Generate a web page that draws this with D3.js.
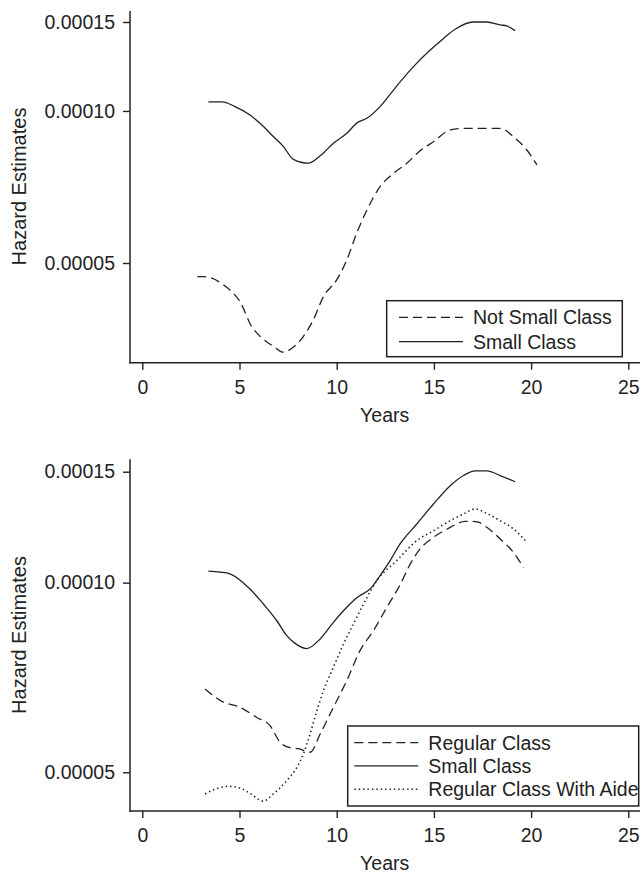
<!DOCTYPE html>
<html>
<head>
<meta charset="utf-8">
<script src="https://cdn.jsdelivr.net/npm/d3@7"></script>
<style>
  html, body { margin: 0; padding: 0; background: #fff; }
  svg { display: block; }
  text { font-family: "Liberation Sans", Arial, Helvetica, sans-serif; fill: #222; }
</style>
</head>
<body>
<svg id="chart" width="640" height="873"></svg>
<script>
(function (d3) {
    "use strict";

    /***** Data *****/

    const xTicks = [0, 5, 10, 15, 20, 25];
    const yTicks = [0.00005, 0.00010, 0.00015];

    // Top panel
    const notSmallYears = [2.83, 3.14, 4.17, 4.51, 5.03, 5.63, 6.06, 6.74, 7.26, 7.60, 8.29, 8.80, 9.32, 10.0,
        10.52, 11.03, 11.56, 12.23, 12.93, 13.61, 14.29, 14.98, 15.84, 16.70, 18.41, 19.09, 19.78, 20.30];
    const notSmallHazard = [0.0000470, 0.0000470, 0.0000453, 0.0000442, 0.0000419, 0.0000374, 0.0000358,
        0.0000342, 0.0000333, 0.0000337, 0.0000358, 0.0000386, 0.0000429, 0.0000463, 0.0000507, 0.0000573,
        0.0000637, 0.0000708, 0.0000753, 0.0000788, 0.0000834, 0.0000869, 0.0000917, 0.0000924, 0.0000924,
        0.0000889, 0.0000837, 0.0000782];

    const smallTopYears = [3.40, 4.09, 4.77, 5.54, 6.15, 6.74, 7.26, 7.77, 8.54, 9.15, 9.83, 10.52, 11.03,
        11.55, 12.23, 12.92, 13.35, 13.95, 14.81, 15.50, 16.09, 17.04, 17.72, 18.41, 18.75, 19.18];
    const smallTopHazard = [0.0001042, 0.0001042, 0.0001020, 0.0000982, 0.0000938, 0.0000890, 0.0000850,
        0.0000802, 0.0000788, 0.0000815, 0.0000863, 0.0000903, 0.0000946, 0.0000967, 0.0001020, 0.0001100,
        0.0001152, 0.0001224, 0.0001320, 0.0001392, 0.0001451, 0.0001500, 0.0001500, 0.0001480, 0.0001473,
        0.0001442];

    // Bottom panel
    const regularYears = [3.23, 4.17, 4.94, 5.89, 6.57, 7.09, 7.60, 8.03, 8.63, 9.15, 9.83, 10.52, 11.2,
        11.89, 12.58, 13.26, 13.78, 14.29, 14.98, 15.84, 16.61, 16.95, 17.29, 17.72, 18.41, 19.09, 19.61];
    const regularHazard = [0.0000678, 0.0000646, 0.0000636, 0.0000611, 0.0000593, 0.0000558, 0.0000547,
        0.0000545, 0.0000538, 0.0000575, 0.0000634, 0.0000699, 0.0000780, 0.0000839, 0.0000914, 0.0000992,
        0.0001070, 0.0001131, 0.0001180, 0.0001224, 0.0001251, 0.0001251, 0.0001247, 0.0001224, 0.0001173,
        0.0001117, 0.0001057];

    const smallBotYears = [3.40, 4.0, 4.51, 5.54, 6.23, 6.92, 7.43, 7.86, 8.46, 9.15, 9.83, 10.52, 11.03,
        11.8, 12.23, 12.75, 13.26, 14.12, 14.98, 15.84, 16.52, 17.12, 17.72, 18.41, 19.18];
    const smallBotHazard = [0.0001043, 0.0001039, 0.0001033, 0.0000977, 0.0000925, 0.0000870, 0.0000824,
        0.0000801, 0.0000786, 0.0000814, 0.0000865, 0.0000914, 0.0000946, 0.0000983, 0.0001026, 0.0001084,
        0.0001152, 0.0001239, 0.0001333, 0.0001425, 0.0001479, 0.0001505, 0.0001505, 0.0001479, 0.0001446];

    const aideYears = [3.23, 3.83, 4.43, 5.03, 5.54, 6.23, 6.74, 7.43, 7.95, 8.29, 8.63, 8.98, 9.32, 9.83,
        10.35, 10.86, 11.38, 12.06, 13.09, 14.12, 14.98, 15.84, 16.52, 17.12, 17.72, 18.41, 19.09, 19.78];
    const aideHazard = [0.0000462, 0.0000471, 0.0000475, 0.0000472, 0.0000463, 0.0000450, 0.0000462,
        0.0000485, 0.0000509, 0.0000535, 0.0000575, 0.0000626, 0.0000674, 0.0000734, 0.0000799, 0.0000860,
        0.0000925, 0.0001007, 0.0001084, 0.0001166, 0.0001209, 0.0001254, 0.0001285, 0.0001309, 0.0001288,
        0.0001254, 0.0001217, 0.0001159];

    /***** Styles *****/

    const ink = "#222";
    const dashes = { dashed: "9,5", solid: null, dotted: "1.4,3" };

    const panels = [
        {
            originY: 362.7, axisTop: 11, yTop: 22, yBottom: 263,
            series: [
                { name: "Not Small Class", years: notSmallYears, hazard: notSmallHazard, style: "dashed" },
                { name: "Small Class", years: smallTopYears, hazard: smallTopHazard, style: "solid" }
            ],
            legend: { x: 386.7, y: 300.7, w: 235.6, h: 56, rowY: [317.3, 341.7] },
            yLabelY: 186.5, xLabelY: 421.5
        },
        {
            originY: 811, axisTop: 459.3, yTop: 471.7, yBottom: 772.3,
            series: [
                { name: "Regular Class", years: regularYears, hazard: regularHazard, style: "dashed" },
                { name: "Small Class", years: smallBotYears, hazard: smallBotHazard, style: "solid" },
                { name: "Regular Class With Aide", years: aideYears, hazard: aideHazard, style: "dotted" }
            ],
            legend: { x: 347.7, y: 726, w: 291, h: 80, rowY: [742.7, 765.9, 789.3] },
            yLabelY: 635, xLabelY: 870
        }
    ];

    const axisX = 130;
    const fontSize = 19.5;

    var svg = d3.select("#chart");

    var x = d3.scaleLinear().domain([0, 25]).range([142.3, 628.3]);

    panels.forEach(function (p) {
        var y = d3.scaleLog().domain([0.00005, 0.00015]).range([p.yBottom, p.yTop]);
        var g = svg.append("g");

        // Axis lines
        g.append("line")
            .attr("x1", axisX).attr("x2", axisX)
            .attr("y1", p.axisTop).attr("y2", p.originY + 0.75)
            .attr("stroke", ink).attr("stroke-width", 1.5);
        g.append("line")
            .attr("x1", axisX - 0.75).attr("x2", 640)
            .attr("y1", p.originY).attr("y2", p.originY)
            .attr("stroke", ink).attr("stroke-width", 1.5);

        // Axes (ticks and labels only)
        var yAxis = g.append("g")
            .attr("transform", "translate(" + axisX + ",0)")
            .call(d3.axisLeft(y).tickValues(yTicks).tickFormat(d3.format(".5f"))
                .tickSize(7).tickPadding(8));
        var xAxis = g.append("g")
            .attr("transform", "translate(0," + p.originY + ")")
            .call(d3.axisBottom(x).tickValues(xTicks).tickFormat(d3.format("d"))
                .tickSize(7).tickPadding(10));

        [yAxis, xAxis].forEach(function (a) {
            a.select(".domain").remove();
            a.selectAll(".tick line").attr("stroke", ink).attr("stroke-width", 1.4);
            a.selectAll(".tick text")
                .attr("fill", ink)
                .style("font-size", fontSize + "px")
                .style("font-family", "'Liberation Sans', Arial, Helvetica, sans-serif");
        });

        // Axis titles
        g.append("text")
            .attr("transform", "translate(25.5," + p.yLabelY + ") rotate(-90)")
            .attr("text-anchor", "middle")
            .style("font-size", "20px")
            .text("Hazard Estimates");
        g.append("text")
            .attr("x", 384.7).attr("y", p.xLabelY)
            .attr("text-anchor", "middle")
            .style("font-size", fontSize + "px")
            .text("Years");

        // Curves
        var line = d3.line()
            .x(function (d) { return x(d[0]); })
            .y(function (d) { return y(d[1]); })
            .curve(d3.curveMonotoneX);

        p.series.forEach(function (s) {
            var pts = s.years.map(function (yr, i) { return [yr, s.hazard[i]]; });
            g.append("path")
                .datum(pts)
                .attr("d", line)
                .attr("fill", "none")
                .attr("stroke", ink)
                .attr("stroke-width", s.style === "dotted" ? 1.6 : 1.3)
                .attr("stroke-dasharray", dashes[s.style]);
        });

        // Legend
        var L = p.legend;
        var lg = g.append("g");
        lg.append("rect")
            .attr("x", L.x).attr("y", L.y)
            .attr("width", L.w).attr("height", L.h)
            .attr("fill", "#fff")
            .attr("stroke", ink).attr("stroke-width", 1.5);
        var x0 = L.x + (p.series.length === 2 ? 12.3 : 6.6);
        p.series.forEach(function (s, i) {
            lg.append("line")
                .attr("x1", x0).attr("x2", x0 + 64)
                .attr("y1", L.rowY[i]).attr("y2", L.rowY[i])
                .attr("stroke", ink)
                .attr("stroke-width", s.style === "dotted" ? 1.6 : 1.3)
                .attr("stroke-dasharray", dashes[s.style]);
            lg.append("text")
                .attr("x", x0 + 74).attr("y", L.rowY[i])
                .attr("dy", "0.35em")
                .style("font-size", fontSize + "px")
                .text(s.name);
        });
    });
})(d3);
</script>
</body>
</html>
